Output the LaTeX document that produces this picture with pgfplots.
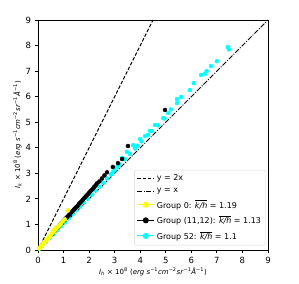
\documentclass[border=0pt]{standalone}
\usepackage{pgfplots}
\pgfplotsset{compat=1.18}
\usepackage{fontspec}
\setmainfont{DejaVu Sans}
\definecolor{mcyan}{RGB}{0,255,255}
\definecolor{myellow}{RGB}{255,255,0}
\newcommand{\unitstr}{(\textit{erg s}\textsuperscript{−1}\textit{cm}\textsuperscript{−2}\textit{sr}\textsuperscript{−1}\textit{Å}\textsuperscript{−1})}
\newcommand{\kh}{$\overline{\mbox{\textit{k/h}}}$}
\begin{document}
\begin{tikzpicture}
\begin{axis}[
  scale only axis, width=230pt, height=230pt,
  xmin=0, xmax=9, ymin=0, ymax=9,
  xtick={0,...,9}, ytick={0,...,9},
  tick align=outside, xtick pos=left, ytick pos=left,
  major tick length=3.5pt,
  axis line style={line width=0.8pt},
  major tick style={line width=0.8pt, black},
  /pgf/number format/assume math mode=true,
  tick label style={font=\fontsize{8.5}{9}\selectfont},
  label style={font=\fontsize{7}{8}\selectfont},
  xlabel={\textit{I}\textsubscript{\textit{h}} × 10\textsuperscript{8} \unitstr},
  ylabel={\textit{I}\textsubscript{\textit{k}} × 10\textsuperscript{8} \unitstr},
  xlabel style={yshift=3pt},
  ylabel style={yshift=-3pt},
  legend style={font=\fontsize{8}{9}\selectfont, at={(0.99,0.02)}, anchor=south east,
    draw=black!15, rounded corners=1pt, row sep=2pt, inner sep=2.5pt},
  legend cell align=left,
]
\addplot[black, line width=1pt, dash pattern=on 3.5pt off 1.8pt, forget plot] coordinates {(0,0) (4.5,9)};
\addlegendimage{black, line width=1pt, dash pattern=on 3.5pt off 1.8pt}
\addlegendentry{y = 2x}
\addplot[black, line width=1pt, dash pattern=on 5pt off 1.5pt on 1pt off 1.5pt, forget plot] coordinates {(0,0) (9,9)};
\addlegendimage{black, line width=1pt, dash pattern=on 5pt off 1.5pt on 1pt off 1.5pt}
\addlegendentry{y = x}
\addlegendimage{myellow, line width=1pt, mark=*, mark size=2.5pt, mark options={draw=myellow, fill=myellow}}
\addlegendentry{Group 0: \kh{} = 1.19}
\addlegendimage{black, line width=1pt, mark=*, mark size=2.5pt}
\addlegendentry{Group (11,12): \kh{} = 1.13}
\addlegendimage{mcyan, line width=1pt, mark=*, mark size=2.5pt, mark options={draw=mcyan, fill=mcyan}}
\addlegendentry{Group 52: \kh{} = 1.1}
% cyan group 52
\addplot[only marks, mark=*, mark size=2pt, color=mcyan, forget plot] coordinates {
(0.05,0.05) (0.15,0.16) (0.30,0.31) (0.45,0.47) (0.60,0.62) (0.75,0.78) (0.90,0.93)
(1.05,1.08) (1.20,1.24) (1.35,1.40) (1.50,1.55) (1.65,1.70) (1.80,1.86) (1.95,2.01)
(2.10,2.17) (2.25,2.33) (2.40,2.48) (2.55,2.64) (2.70,2.80) (2.85,2.95) (2.93,3.05)
(3.00,3.12) (3.10,3.25) (3.20,3.35) (3.29,3.60) (3.40,3.55) (3.48,3.84) (3.60,3.76)
(3.72,4.10) (3.80,3.97) (3.90,4.08) (4.00,4.34) (4.05,4.25) (4.19,4.46) (4.30,4.50)
(4.38,4.66) (4.45,4.65) (4.58,4.89) (4.70,4.88) (4.90,5.16) (4.95,5.15) (5.10,5.36)
(5.20,5.50) (5.44,5.75) (5.44,5.91) (5.60,5.99) (5.95,6.26) (6.10,6.53) (6.38,6.85)
(6.53,6.89) (6.60,7.00) (6.77,7.20) (7.00,7.39) (7.43,7.94) (7.47,7.85)
};
% black group (11,12)
\addplot[only marks, mark=*, mark size=2pt, color=black, forget plot] coordinates {
(0.55,0.62) (0.65,0.74) (0.75,0.86) (0.85,0.97) (0.92,1.05) (1.00,1.14) (1.05,1.20)
(1.10,1.25) (1.15,1.30) (1.20,1.36) (1.25,1.40) (1.30,1.47) (1.35,1.52) (1.40,1.58)
(1.45,1.63) (1.50,1.68) (1.55,1.73) (1.60,1.80) (1.65,1.85) (1.70,1.90) (1.75,1.96)
(1.80,2.02) (1.85,2.07) (1.90,2.13) (1.95,2.18) (2.00,2.24) (2.05,2.30) (2.10,2.35)
(2.15,2.40) (2.20,2.47) (2.25,2.52) (2.30,2.60) (2.40,2.68) (2.50,2.80) (2.60,2.92)
(2.70,3.04) (2.93,3.25) (3.13,3.40) (3.29,3.56) (3.52,4.07) (4.97,5.48)
};
% yellow group 0
\addplot[only marks, mark=*, mark size=2pt, color=myellow, forget plot] coordinates {
(0.05,0.06) (0.08,0.10) (0.10,0.12) (0.12,0.15) (0.15,0.18) (0.18,0.21) (0.20,0.25)
(0.23,0.27) (0.26,0.31) (0.30,0.35) (0.33,0.40) (0.36,0.43) (0.40,0.47) (0.43,0.52)
(0.45,0.50) (0.47,0.55) (0.50,0.59) (0.53,0.63) (0.57,0.67) (0.60,0.71) (0.62,0.78)
(0.64,0.75) (0.68,0.80) (0.70,0.86) (0.72,0.84) (0.76,0.88) (0.80,0.92) (0.85,0.97)
(0.90,1.03) (0.97,1.12) (1.05,1.20) (1.17,1.55)
};
\end{axis}
\path (current axis.south west) ++(-38pt,-33pt) rectangle ++(299pt,283pt);
\end{tikzpicture}
\end{document}
